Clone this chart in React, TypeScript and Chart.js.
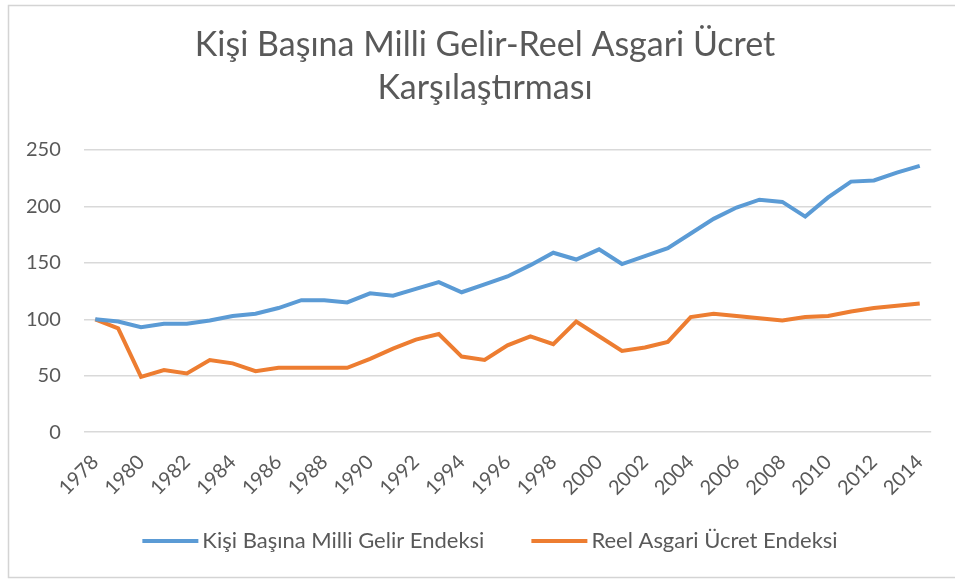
import React, { useEffect, useRef } from "react";
import { Chart, registerables } from "chart.js";

Chart.register(...registerables);

const years: string[] = [
  "1978", "1979", "1980", "1981", "1982", "1983", "1984", "1985", "1986", "1987",
  "1988", "1989", "1990", "1991", "1992", "1993", "1994", "1995", "1996", "1997",
  "1998", "1999", "2000", "2001", "2002", "2003", "2004", "2005", "2006", "2007",
  "2008", "2009", "2010", "2011", "2012", "2013", "2014",
];

const milliGelir: number[] = [
  100, 98, 93, 96, 96, 99, 103, 105, 110, 117,
  117, 115, 123, 121, 127, 133, 124, 131, 138, 148,
  159, 153, 162, 149, 156, 163, 176, 189, 199, 206,
  204, 191, 208, 222, 223, 230, 236,
];

const asgariUcret: number[] = [
  100, 92, 49, 55, 52, 64, 61, 54, 57, 57,
  57, 57, 65, 74, 82, 87, 67, 64, 77, 85,
  78, 98, 85, 72, 75, 80, 102, 105, 103, 101,
  99, 102, 103, 107, 110, 112, 114,
];

const titleLines: string[] = ["Kişi Başına Milli Gelir-Reel Asgari Ücret", "Karşılaştırması"];
const seriesNames: string[] = ["Kişi Başına Milli Gelir Endeksi", "Reel Asgari Ücret Endeksi"];

const FONT = "Lato, 'Open Sans', sans-serif";
const GREY = "#595959";

export default function App() {
  const canvasRef = useRef<HTMLCanvasElement | null>(null);

  useEffect(() => {
    document.body.style.margin = "0";
    const canvas = canvasRef.current;
    if (!canvas) return;

    const bgPlugin = {
      id: "bgBorder",
      afterLayout(chart: any) {
        const t = chart.titleBlock;
        if (t) {
          t.left += 17;
          t.right += 17;
        }
      },
      beforeDraw(chart: any) {
        const ctx = chart.ctx;
        ctx.save();
        ctx.fillStyle = "#ffffff";
        ctx.fillRect(0, 0, chart.width, chart.height);
        ctx.strokeStyle = "#d4d4d4";
        ctx.lineWidth = 1.5;
        ctx.strokeRect(8.5, 5.5, chart.width + 10, chart.height - 7);
        ctx.restore();
      },
    };

    // legend drawn below the x axis, lines + labels taken from the datasets
    const legendPlugin = {
      id: "lineLegend",
      afterDraw(chart: any) {
        const ctx = chart.ctx;
        const sets = chart.data.datasets;
        const lineW = 56;
        const gapText = 4;
        const gapItem = 47;
        const cy = 541;
        const centerX = 490;
        ctx.save();
        ctx.font = `22px ${FONT}`;
        const widths = sets.map((d: any) => ctx.measureText(d.label).width);
        let total = 0;
        widths.forEach((w: number, i: number) => {
          total += lineW + gapText + w + (i < widths.length - 1 ? gapItem : 0);
        });
        let x = centerX - total / 2;
        sets.forEach((d: any, i: number) => {
          ctx.strokeStyle = d.borderColor;
          ctx.lineWidth = 4;
          ctx.lineCap = "butt";
          ctx.beginPath();
          ctx.moveTo(x, cy);
          ctx.lineTo(x + lineW, cy);
          ctx.stroke();
          x += lineW + gapText;
          ctx.fillStyle = GREY;
          ctx.textBaseline = "middle";
          ctx.textAlign = "left";
          ctx.fillText(d.label, x, cy);
          x += widths[i] + gapItem;
        });
        ctx.restore();
      },
    };

    const chart = new Chart(canvas, {
      type: "line",
      data: {
        labels: years,
        datasets: [
          {
            label: seriesNames[0],
            data: milliGelir,
            borderColor: "#5b9bd5",
            backgroundColor: "#5b9bd5",
            borderWidth: 4,
            pointRadius: 0,
            tension: 0,
          },
          {
            label: seriesNames[1],
            data: asgariUcret,
            borderColor: "#ed7d31",
            backgroundColor: "#ed7d31",
            borderWidth: 4,
            pointRadius: 0,
            tension: 0,
          },
        ],
      },
      options: {
        animation: false,
        responsive: false,
        maintainAspectRatio: false,
        layout: { padding: { left: 3, right: 22, top: 6, bottom: 61 } },
        plugins: {
          title: {
            display: true,
            text: titleLines,
            color: GREY,
            font: { family: FONT, size: 34, weight: "normal", lineHeight: 1.25 },
            padding: { top: 18, bottom: 41 },
          },
          legend: { display: false },
          tooltip: { enabled: false },
        },
        scales: {
          x: {
            offset: true,
            grid: { display: false, drawTicks: false },
            border: { display: false },
            ticks: {
              autoSkip: false,
              maxRotation: 45,
              minRotation: 45,
              color: GREY,
              font: { family: FONT, size: 20 },
              padding: 18,
              callback: function (_v: any, i: number) {
                return i % 2 === 0 ? years[i] : "";
              },
            },
          },
          y: {
            min: 0,
            max: 250,
            ticks: {
              stepSize: 50,
              color: GREY,
              font: { family: FONT, size: 20 },
              padding: 23,
            },
            grid: { color: "#d9d9d9", lineWidth: 1.5, drawTicks: false },
            border: { display: false },
          },
        },
      },
      plugins: [bgPlugin, legendPlugin],
    });

    return () => chart.destroy();
  }, []);

  return (
    <div style={{ width: 955, height: 579 }}>
      <canvas ref={canvasRef} width={955} height={579} style={{ display: "block" }} />
    </div>
  );
}
